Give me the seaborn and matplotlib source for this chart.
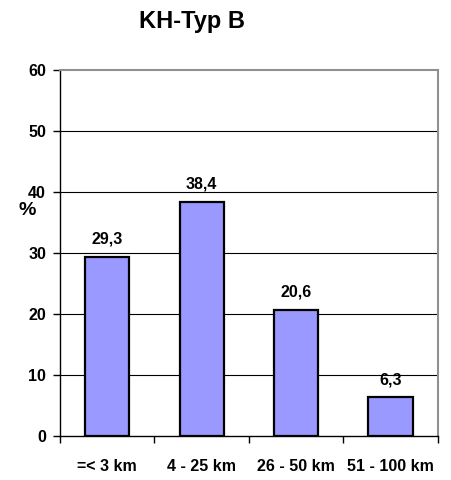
import matplotlib
matplotlib.use("Agg")
import matplotlib.pyplot as plt
import seaborn as sns
import numpy as np
import pandas as pd

# --- data ---
categories = ["=< 3 km", "4 - 25 km", "26 - 50 km", "51 - 100 km"]
values = [29.3, 38.4, 20.6, 6.3]
value_labels = ["29,3", "38,4", "20,6", "6,3"]
y_ticks = [0, 10, 20, 30, 40, 50, 60]

sns.set_style("white")
plt.rcParams['font.family'] = ['Liberation Sans', 'DejaVu Sans']
plt.rcParams['text.color'] = 'black'
plt.rcParams['xtick.color'] = 'black'
plt.rcParams['ytick.color'] = 'black'

df = pd.DataFrame({"category": categories, "value": values})

fig = plt.figure(figsize=(4.51, 4.8), dpi=100)
ax = fig.add_axes([0.133, 0.092, 0.838, 0.762])

sns.barplot(data=df, x="category", y="value", color="#9999FF",
            edgecolor="black", linewidth=1.6, width=0.47, saturation=1, ax=ax)

ax.set_ylim(0, 60)
ax.set_xlim(-0.5, len(categories) - 0.5)
ax.set_yticks(y_ticks)
ax.set_yticklabels([str(t) for t in y_ticks], fontsize=11.5, fontweight="bold")
for t in y_ticks[1:-1]:
    ax.axhline(t, color="black", linewidth=0.8, zorder=0)

# category labels centred, tick marks at category boundaries
ax.set_xticks(range(len(categories)))
ax.set_xticklabels(categories, fontsize=11.5, fontweight="bold")
ax.tick_params(axis="x", which="major", length=0, pad=17)
ax.set_xticks(np.arange(-0.5, len(categories)), minor=True)
ax.tick_params(axis="x", which="minor", bottom=True, length=5, width=1,
               color="black", direction="out")
ax.tick_params(axis="y", left=True, length=5, width=1, color="black",
               direction="out", pad=5)

for i, (v, lab) in enumerate(zip(values, value_labels)):
    ax.text(i, v + 1.7, lab, ha="center", va="bottom", fontsize=11.5, fontweight="bold")

ax.set_xlabel("")
ax.set_ylabel("")
ax.text(-0.087, 0.617, "%", transform=ax.transAxes, fontsize=14,
        fontweight="bold", ha="center", va="center")

for side in ["left", "bottom"]:
    ax.spines[side].set_color("black")
    ax.spines[side].set_linewidth(1)
for side in ["top", "right"]:
    ax.spines[side].set_visible(True)
    ax.spines[side].set_color("#909090")
    ax.spines[side].set_linewidth(1.5)

fig.text(0.426, 0.955, "KH-Typ B", ha="center", va="center", fontsize=17, fontweight="bold")

fig.savefig("out.png", dpi=100)
